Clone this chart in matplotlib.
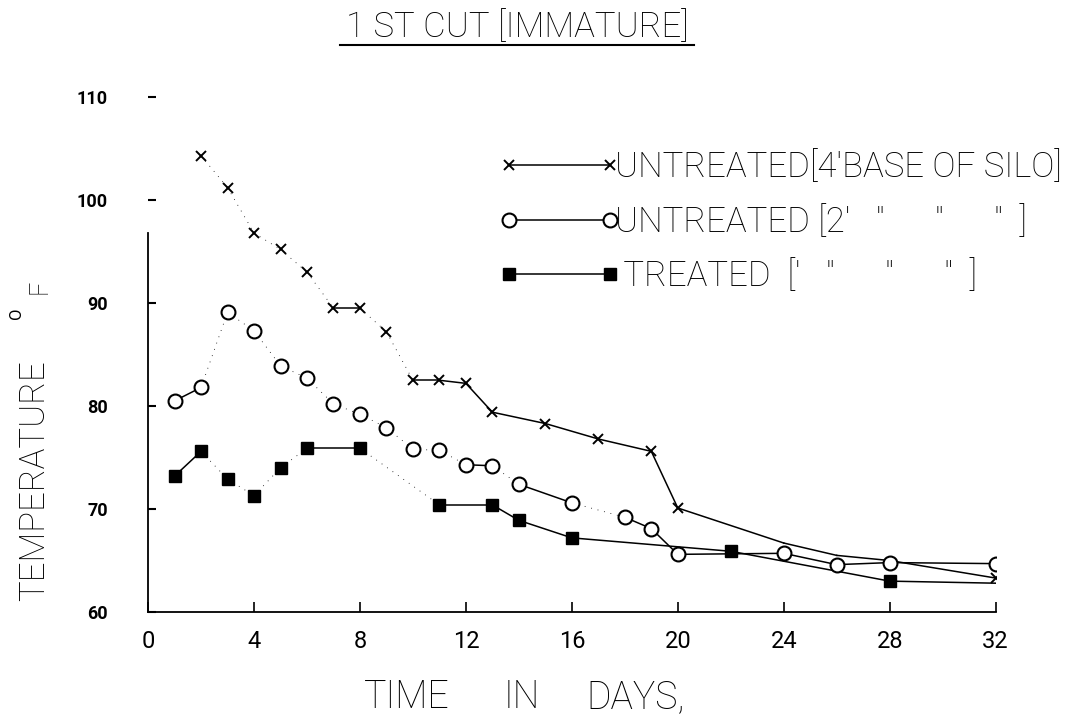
import numpy as np
import matplotlib.pyplot as plt
from matplotlib.lines import Line2D

title = "1 ST CUT [IMMATURE]"
legend_labels = ["UNTREATED[4'BASE OF SILO]",
                 "UNTREATED [2'   \"      \"      \"  ]",
                 " TREATED  ['   \"      \"      \"  ]"]

# untreated, 4' above base (x markers)
x_days = [2, 3, 4, 5, 6, 7, 8, 9, 10, 11, 12, 13, 15, 17, 19, 20, 24, 26, 28, 32]
x_temp = [104.3, 101.2, 96.8, 95.2, 93.0, 89.5, 89.5, 87.2, 82.5, 82.5, 82.2,
          79.4, 78.3, 76.8, 75.6, 70.1, 66.7, 65.5, 65.0, 63.3]
x_faint = [2, 3, 4, 5, 6, 8, 9]
x_hidden = [24, 26, 28]

# untreated, 2' (open circles)
c_days = [1, 2, 3, 4, 5, 6, 7, 8, 9, 10, 11, 12, 13, 14, 16, 18, 19, 20, 24, 26, 28, 32]
c_temp = [80.5, 81.8, 89.1, 87.3, 83.9, 82.7, 80.2, 79.2, 77.9, 75.8, 75.7,
          74.3, 74.2, 72.4, 70.6, 69.2, 68.1, 65.6, 65.7, 64.6, 64.8, 64.7]
c_faint = [2, 3, 4, 5, 6, 7, 8, 9, 10, 11, 13, 16]
c_hidden = []

# treated (filled squares)
s_days = [1, 2, 3, 4, 5, 6, 8, 11, 13, 14, 16, 22, 28, 32]
s_temp = [73.2, 75.6, 72.9, 71.3, 74.0, 75.9, 75.9, 70.4, 70.4, 68.9, 67.2,
          65.9, 63.0, 62.8]
s_faint = [2, 3, 4, 5, 8]
s_hidden = [32]

xticks = [0, 4, 8, 12, 16, 20, 24, 28, 32]
yticks = [60, 70, 80, 90, 100, 110]

plt.rcParams['font.family'] = ['Roboto', 'DejaVu Sans']

fig = plt.figure(figsize=(10.81, 7.17), dpi=100)
ax = fig.add_axes([0.137, 0.1464, 0.784, 0.7183])

styles = [dict(marker='x', ms=7, mew=1.4, mfc='black'),
          dict(marker='o', ms=10, mew=1.5, mfc='white'),
          dict(marker='s', ms=9, mew=1.0, mfc='black')]
series = [(x_days, x_temp, x_faint, x_hidden),
          (c_days, c_temp, c_faint, c_hidden),
          (s_days, s_temp, s_faint, s_hidden)]

for (days, temps, faint, hidden), st in zip(series, styles):
    for i in range(len(days) - 1):
        if days[i] in faint:
            # segments that have almost faded out of the original print
            ax.plot(days[i:i+2], temps[i:i+2], color='black', lw=0.6,
                    ls=(0, (1, 7)), zorder=2)
        else:
            ax.plot(days[i:i+2], temps[i:i+2], color='black', lw=1.1, zorder=2)
    show = [i for i, d in enumerate(days) if d not in hidden]
    ax.plot(days, temps, ls='none', color='black', markevery=show, zorder=3, **st)

handles = [Line2D([], [], color='black', lw=1.1, **st) for st in styles]
ax.legend(handles, legend_labels, loc='upper left',
          bbox_to_anchor=(499 / 1081, 1 - 150 / 717), bbox_transform=fig.transFigure,
          numpoints=2, handlelength=3.5, handletextpad=-0.15, labelspacing=0.6,
          frameon=False, borderpad=0, borderaxespad=0,
          prop=dict(size=25, weight='light'))

ax.set_xlim(0, 32)
ax.set_ylim(60, 110)
ax.spines['top'].set_visible(False)
ax.spines['right'].set_visible(False)
ax.spines['left'].set_bounds(60, 96.8)
ax.spines['left'].set_linewidth(1.3)
ax.spines['bottom'].set_linewidth(1.3)

ax.set_xticks(xticks)
ax.set_yticks(yticks)
ax.tick_params(axis='x', direction='in', length=7, width=1.2, pad=13, labelsize=17)
ax.tick_params(axis='y', direction='in', length=6, width=1.5, pad=29, labelsize=13)
for lab in ax.get_yticklabels():
    lab.set_fontweight('bold')

fig.text(517 / 1081, 1 - 27 / 717, title, ha='center', va='center',
         fontsize=25, weight='light')
fig.add_artist(Line2D([340 / 1081, 694 / 1081], [1 - 45 / 717] * 2,
                      transform=fig.transFigure, color='black', lw=1.5))

fig.text(34 / 1081, 1 - 481 / 717, "TEMPERATURE", rotation=90, ha='center',
         va='center', fontsize=25, weight='light')
fig.text(16.5 / 1081, 1 - 313 / 717, "O", rotation=90, ha='center',
         va='center', fontsize=12)
fig.text(39.5 / 1081, 1 - 287 / 717, "F", rotation=90, ha='center',
         va='center', fontsize=18, weight='light')

for word, xc in [("TIME", 407), ("IN", 522), ("DAYS,", 636)]:
    fig.text(xc / 1081, 1 - 697 / 717, word, ha='center', va='center',
             fontsize=27, weight='light')

fig.savefig("out.png", dpi=100)
